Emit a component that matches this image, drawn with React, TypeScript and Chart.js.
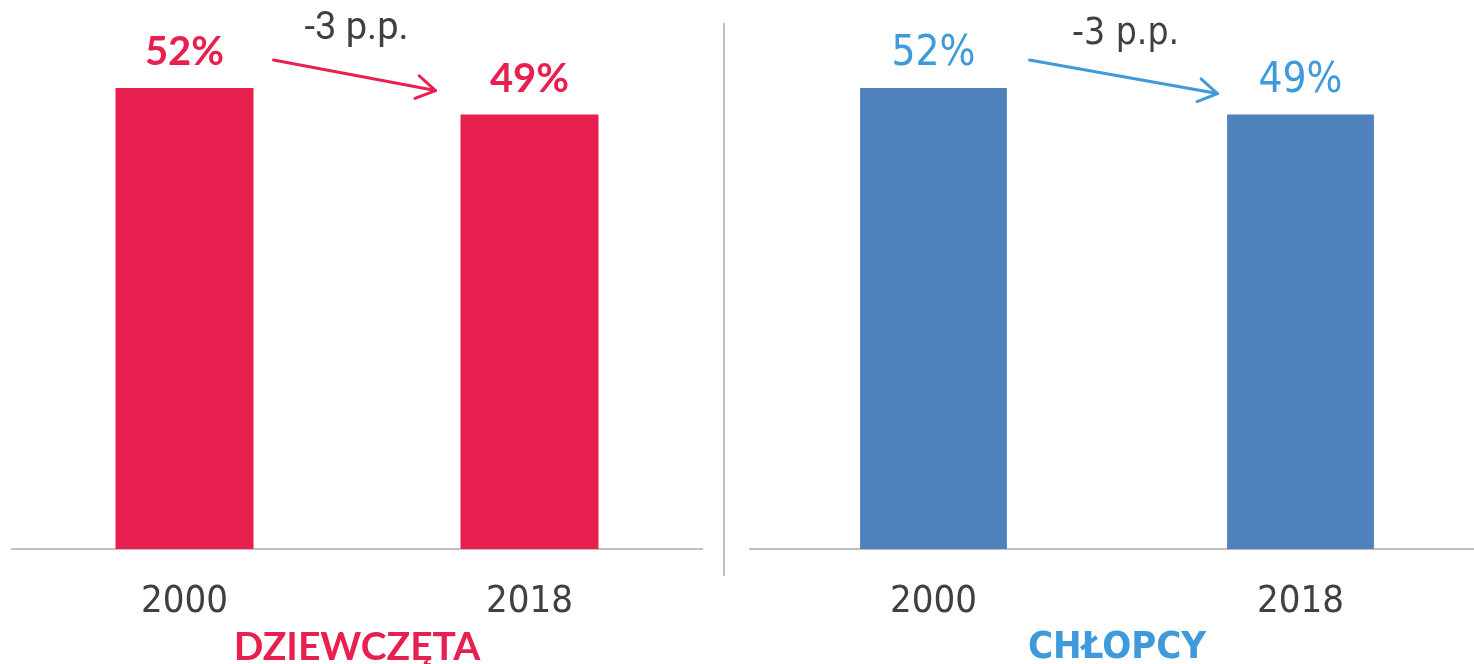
import React, { useEffect, useRef } from 'react';
import { Chart, registerables } from 'chart.js';

Chart.register(...registerables);

const categories = ['2000', '2018'];
const girlsValues = [52, 49];
const boysValues = [52, 49];
const changeLabels = ['-3 p.p.', '-3 p.p.'];
const panelTitles = ['DZIEWCZĘTA', 'CHŁOPCY'];
const valueSuffix = '%';
const yMax = 60;

const NARROW = "'Liberation Sans Narrow', 'Arial Narrow', 'DejaVu Sans Condensed', 'Liberation Sans', sans-serif";
const LATO = "Lato, 'Noto Sans', sans-serif";
const ROBOTO = "Roboto, 'Noto Sans', sans-serif";

const AXIS_HEIGHT = 115;
const TICK_SIZE = 38;
const TICK_PAD = 34;

const annotatePlugin = {
  id: 'annotate',
  afterDatasetsDraw(chart: any, _args: any, opts: any) {
    const ctx = chart.ctx;
    const meta = chart.getDatasetMeta(0);
    const data = chart.data.datasets[0].data;
    ctx.save();
    ctx.fillStyle = opts.labelColor;
    ctx.font = opts.labelFont;
    ctx.textAlign = 'center';
    ctx.textBaseline = 'alphabetic';
    meta.data.forEach((bar: any, i: number) => {
      ctx.fillText(`${data[i]}${valueSuffix}`, bar.x, bar.y - 23);
    });
    const b0 = meta.data[0];
    const b1 = meta.data[1];
    const sx = b0.x + opts.arrowStart[0];
    const sy = b0.y + opts.arrowStart[1];
    const ex = b1.x + opts.arrowEnd[0];
    const ey = b1.y + opts.arrowEnd[1];
    ctx.strokeStyle = opts.arrowColor;
    ctx.lineWidth = 3;
    ctx.lineCap = 'round';
    ctx.lineJoin = 'round';
    ctx.beginPath();
    ctx.moveTo(sx, sy);
    ctx.lineTo(ex, ey);
    ctx.stroke();
    const ang = Math.atan2(ey - sy, ex - sx);
    const hl = 22;
    ctx.beginPath();
    ctx.moveTo(ex - hl * Math.cos(ang - 0.55), ey - hl * Math.sin(ang - 0.55));
    ctx.lineTo(ex, ey);
    ctx.lineTo(ex - hl * Math.cos(ang + 0.55), ey - hl * Math.sin(ang + 0.55));
    ctx.stroke();
    ctx.fillStyle = opts.changeColor;
    ctx.font = opts.changeFont;
    ctx.fillText(opts.changeText, (sx + ex) / 2 + 2, (sy + ey) / 2 + opts.changeDy);
    ctx.restore();
  },
};

function makeConfig(values: number[], p: any) {
  const titleBottom = -3;
  const titleTop = AXIS_HEIGHT - (2 * TICK_PAD + TICK_SIZE) - p.titleSize - titleBottom;
  return {
    type: 'bar',
    data: {
      labels: categories,
      datasets: [
        {
          data: values,
          backgroundColor: p.barColor,
          barPercentage: 0.4,
          categoryPercentage: 1,
        },
      ],
    },
    plugins: [annotatePlugin],
    options: {
      responsive: false,
      animation: false,
      devicePixelRatio: 1,
      layout: { padding: { top: 17, left: p.padLeft, right: p.padRight, bottom: 0 } },
      plugins: {
        legend: { display: false },
        tooltip: { enabled: false },
        annotate: {
          labelColor: p.labelColor,
          labelFont: p.labelFont,
          arrowColor: p.arrowColor,
          arrowStart: p.arrowStart,
          arrowEnd: p.arrowEnd,
          changeColor: '#404040',
          changeFont: p.changeFont,
          changeText: p.changeText,
          changeDy: p.changeDy,
        },
      },
      scales: {
        y: { display: false, min: 0, max: yMax },
        x: {
          grid: { display: false, drawTicks: false },
          border: { display: true, color: '#BFBFBF', width: 2 },
          ticks: {
            color: '#404040',
            padding: TICK_PAD,
            font: { family: NARROW, size: TICK_SIZE, lineHeight: 1 },
          },
          title: {
            display: true,
            text: p.title,
            color: p.titleColor,
            font: { family: p.titleFamily, size: p.titleSize, weight: 'bold', lineHeight: 1 },
            padding: { top: titleTop, bottom: titleBottom },
          },
        },
      },
    },
  };
}

function Panel(props: { values: number[]; p: any; left: number; width: number }) {
  const ref = useRef<HTMLCanvasElement | null>(null);
  useEffect(() => {
    if (!ref.current) return;
    const chart = new Chart(ref.current, makeConfig(props.values, props.p) as any);
    return () => chart.destroy();
  }, []);
  return (
    <canvas
      ref={ref}
      width={props.width}
      height={664}
      style={{ position: 'absolute', left: props.left, top: 0, width: props.width, height: 664 }}
    />
  );
}

const girlsStyle = {
  barColor: '#E8204F',
  labelColor: '#E8204F',
  labelFont: `bold 40px ${LATO}`,
  arrowColor: '#E8204F',
  arrowStart: [89, -28],
  arrowEnd: [-94, -24],
  changeFont: `38px ${ROBOTO}`,
  changeText: changeLabels[0],
  changeDy: -36,
  title: panelTitles[0],
  titleColor: '#E8204F',
  titleFamily: LATO,
  titleSize: 39,
  padLeft: 12,
  padRight: 18,
};

const boysStyle = {
  barColor: '#4F81BD',
  labelColor: '#3E9ADA',
  labelFont: `42px ${NARROW}`,
  arrowColor: '#3E9ADA',
  arrowStart: [96, -28],
  arrowEnd: [-83, -21],
  changeFont: `37px ${NARROW}`,
  changeText: changeLabels[1],
  changeDy: -33,
  title: panelTitles[1],
  titleColor: '#3E9ADA',
  titleFamily: NARROW,
  titleSize: 38,
  padLeft: 22,
  padRight: 4,
};

export default function App() {
  useEffect(() => {
    document.body.style.margin = '0';
    document.body.style.background = '#ffffff';
  }, []);
  return (
    <div style={{ position: 'relative', width: 1474, height: 664, overflow: 'hidden', background: '#fff' }}>
      <Panel values={girlsValues} p={girlsStyle} left={0} width={720} />
      <div style={{ position: 'absolute', left: 723, top: 23, width: 2, height: 553, background: '#BFBFBF' }} />
      <Panel values={boysValues} p={boysStyle} left={728} width={760} />
    </div>
  );
}
